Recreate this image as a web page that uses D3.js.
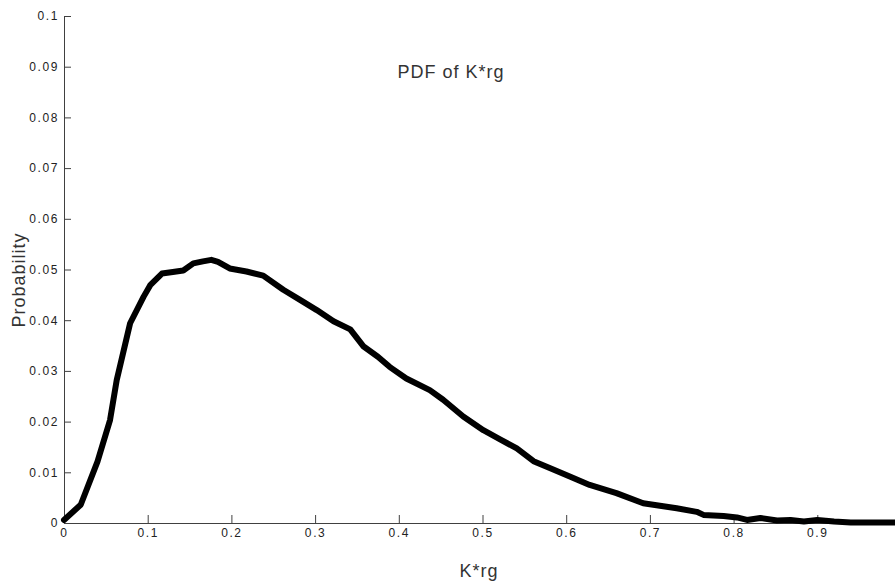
<!DOCTYPE html>
<html>
<head>
<meta charset="utf-8">
<script src="https://cdn.jsdelivr.net/npm/d3@7"></script>
<style>
  html, body { margin: 0; padding: 0; background: #fff; }
  svg { display: block; }
  .tick text { font-family: "Liberation Sans", Arial, sans-serif; font-size: 12px; letter-spacing: 1.6px; fill: #222; }
  .lbl { font-family: "Liberation Sans", Arial, sans-serif; font-size: 18px; letter-spacing: 1px; fill: #333; }
</style>
</head>
<body>
<svg id="chart" width="895" height="583"></svg>
<script>
// Estimated probability density of K*rg
const kValues = [0, 0.02, 0.04, 0.055, 0.063, 0.079, 0.095, 0.103, 0.117, 0.13, 0.1425, 0.1545, 0.166, 0.176, 0.184, 0.198, 0.218, 0.238, 0.262, 0.282, 0.302, 0.322, 0.342, 0.358, 0.375, 0.389, 0.409, 0.437, 0.453, 0.477, 0.501, 0.521, 0.541, 0.561, 0.581, 0.605, 0.628, 0.66, 0.692, 0.712, 0.732, 0.756, 0.764, 0.788, 0.804, 0.816, 0.832, 0.852, 0.868, 0.884, 0.9, 0.92, 0.94, 0.96, 1.0];
const probValues = [0.0006, 0.0036, 0.0121, 0.0203, 0.0282, 0.0394, 0.0446, 0.0469, 0.0492, 0.0495, 0.0498, 0.0512, 0.0516, 0.0519, 0.0515, 0.0502, 0.0496, 0.0488, 0.046, 0.044, 0.042, 0.0398, 0.0382, 0.0348, 0.0328, 0.0308, 0.0285, 0.0262, 0.0243, 0.021, 0.0183, 0.0165, 0.0147, 0.0122, 0.0108, 0.0091, 0.0075, 0.0059, 0.0039, 0.0034, 0.0029, 0.0022, 0.0016, 0.0014, 0.0011, 0.0006, 0.001, 0.0005, 0.0006, 0.0003, 0.0006, 0.0003, 0.0001, 0.0001, 0.0001];

const xTicks = [0, 0.1, 0.2, 0.3, 0.4, 0.5, 0.6, 0.7, 0.8, 0.9];
const yTicks = [0, 0.01, 0.02, 0.03, 0.04, 0.05, 0.06, 0.07, 0.08, 0.09, 0.1];

const titleText = "PDF of K*rg";
const xLabel = "K*rg";
const yLabel = "Probability";

const svg = d3.select("#chart");
const plotLeft = 64, plotBottom = 523, plotTop = 16, xSpan = 837;

const x = d3.scaleLinear().domain([0, 1]).range([plotLeft, plotLeft + xSpan]);
const y = d3.scaleLinear().domain([0, 0.1]).range([plotBottom, plotTop]);
const fmt = d => String(+d.toFixed(2));

const axisColor = "#404040";

const gx = svg.append("g")
  .attr("transform", `translate(0,${plotBottom})`)
  .call(d3.axisBottom(x).tickValues(xTicks).tickFormat(fmt).tickSizeInner(-8).tickSizeOuter(0).tickPadding(5));

const gy = svg.append("g")
  .attr("transform", `translate(${plotLeft},0)`)
  .call(d3.axisLeft(y).tickValues(yTicks).tickFormat(fmt).tickSizeInner(-7).tickSizeOuter(0).tickPadding(5));

[gx, gy].forEach(g => {
  g.select(".domain").attr("stroke", axisColor).attr("stroke-width", 1);
  g.selectAll(".tick line").attr("stroke", axisColor).attr("stroke-width", 1);
});

const pts = kValues.map((k, i) => [k, probValues[i]]);
svg.append("path")
  .datum(pts)
  .attr("fill", "none")
  .attr("stroke", "#000")
  .attr("stroke-width", 6)
  .attr("stroke-linejoin", "round")
  .attr("stroke-linecap", "round")
  .attr("d", d3.line().x(d => x(d[0])).y(d => y(d[1])));

svg.append("text").attr("class", "lbl")
  .attr("x", 451).attr("y", 78).attr("text-anchor", "middle")
  .text(titleText);

svg.append("text").attr("class", "lbl")
  .attr("x", 479).attr("y", 577).attr("text-anchor", "middle")
  .text(xLabel);

svg.append("text").attr("class", "lbl")
  .attr("transform", "translate(25,280) rotate(-90)")
  .attr("text-anchor", "middle")
  .text(yLabel);
</script>
</body>
</html>
